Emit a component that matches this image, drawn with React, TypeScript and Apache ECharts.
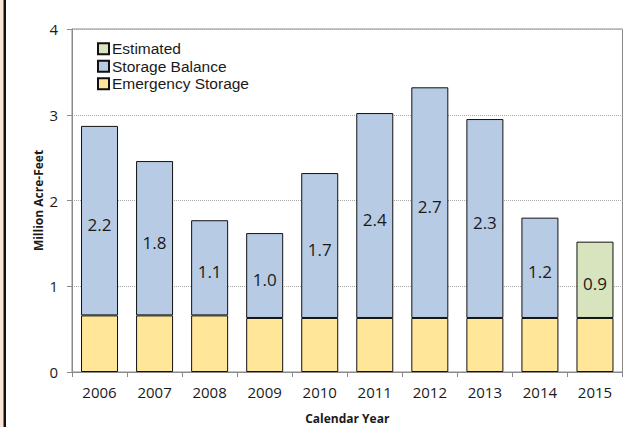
import React, { useEffect, useRef } from "react";
import * as echarts from "echarts";

const years = ["2006", "2007", "2008", "2009", "2010", "2011", "2012", "2013", "2014", "2015"];
const emergencyStorage = [0.66, 0.66, 0.66, 0.63, 0.63, 0.63, 0.63, 0.63, 0.63, 0.63];
const storageBalance = [2.21, 1.8, 1.11, 0.99, 1.69, 2.39, 2.69, 2.32, 1.17, null];
const estimated = [null, null, null, null, null, null, null, null, null, 0.89];
const yTicks = [0, 1, 2, 3, 4];

const FONT = "Open Sans";
const LEGEND_FONT = "Liberation Sans";

export default function App() {
  const ref = useRef<HTMLDivElement>(null);
  useEffect(() => {
    document.body.style.margin = "0";
    const chart = echarts.init(ref.current!, undefined, { renderer: "svg" });
    const labelCfg = {
      show: true,
      position: "inside" as const,
      offset: [0, 4],
      fontFamily: FONT,
      fontSize: 17,
      color: "#1a1a1a",
      formatter: (p: any) => (p.value == null ? "" : Number(p.value).toFixed(1)),
    };
    chart.setOption({
      animation: false,
      backgroundColor: "#fff",
      textStyle: { fontFamily: FONT },
      grid: {
        left: 72,
        right: 1.5,
        top: 29,
        bottom: 55,
        show: true,
        borderColor: "#8a8a8a",
        borderWidth: 1,
        containLabel: false,
        outerBoundsMode: "none",
      },
      legend: {
        orient: "vertical",
        left: 92,
        top: 35,
        itemWidth: 11,
        itemHeight: 11,
        itemGap: 0,
        icon: "rect",
        data: ["Estimated", "Storage Balance", "Emergency Storage"],
        textStyle: {
          fontFamily: LEGEND_FONT,
          fontSize: 15.5,
          lineHeight: 17.5,
          color: "#1a1a1a",
          padding: [0, 0, 0, -2],
        },
      },
      xAxis: {
        type: "category",
        data: years,
        name: "Calendar Year",
        nameLocation: "middle",
        nameGap: 40,
        nameMoveOverlap: false,
        nameTextStyle: { fontFamily: FONT, fontWeight: "bold", fontSize: 12, color: "#1a1a1a" },
        axisLine: { lineStyle: { color: "#8a8a8a", width: 1 } },
        axisTick: { show: true, inside: false, length: 5, lineStyle: { color: "#8a8a8a" } },
        axisLabel: { fontFamily: FONT, fontSize: 15, color: "#1a1a1a", margin: 12 },
      },
      yAxis: {
        type: "value",
        min: yTicks[0],
        max: yTicks[yTicks.length - 1],
        interval: 1,
        name: "Million Acre-Feet",
        nameLocation: "middle",
        nameGap: 28,
        nameMoveOverlap: false,
        nameTextStyle: { fontFamily: FONT, fontWeight: "bold", fontSize: 12, color: "#1a1a1a" },
        axisLine: { show: true, lineStyle: { color: "#8a8a8a", width: 1 } },
        axisTick: { show: true, inside: false, length: 5, lineStyle: { color: "#8a8a8a" } },
        axisLabel: { fontFamily: FONT, fontSize: 15, color: "#1a1a1a", margin: 14 },
        splitLine: { show: true, lineStyle: { color: "#a8a8a8", type: "dotted", width: 1 } },
      },
      series: [
        {
          name: "Emergency Storage",
          type: "bar",
          stack: "total",
          data: emergencyStorage,
          barWidth: 37,
          itemStyle: { color: "#FFE699", borderColor: "#111", borderWidth: 1 },
        },
        {
          name: "Storage Balance",
          type: "bar",
          stack: "total",
          data: storageBalance,
          barWidth: 37,
          itemStyle: { color: "#B7CBE4", borderColor: "#111", borderWidth: 1 },
          label: labelCfg,
        },
        {
          name: "Estimated",
          type: "bar",
          stack: "total",
          data: estimated,
          barWidth: 37,
          itemStyle: { color: "#D7E4BD", borderColor: "#111", borderWidth: 1 },
          label: labelCfg,
        },
      ],
      graphic: [
        { type: "rect", left: 0, top: 0, shape: { width: 3.5, height: 427 }, style: { fill: "#FBE5D6" } },
        { type: "rect", left: 3.5, top: 0, shape: { width: 2.5, height: 427 }, style: { fill: "#111" } },
      ],
    });
    return () => chart.dispose();
  }, []);
  return <div ref={ref} style={{ width: 624, height: 427 }} />;
}
